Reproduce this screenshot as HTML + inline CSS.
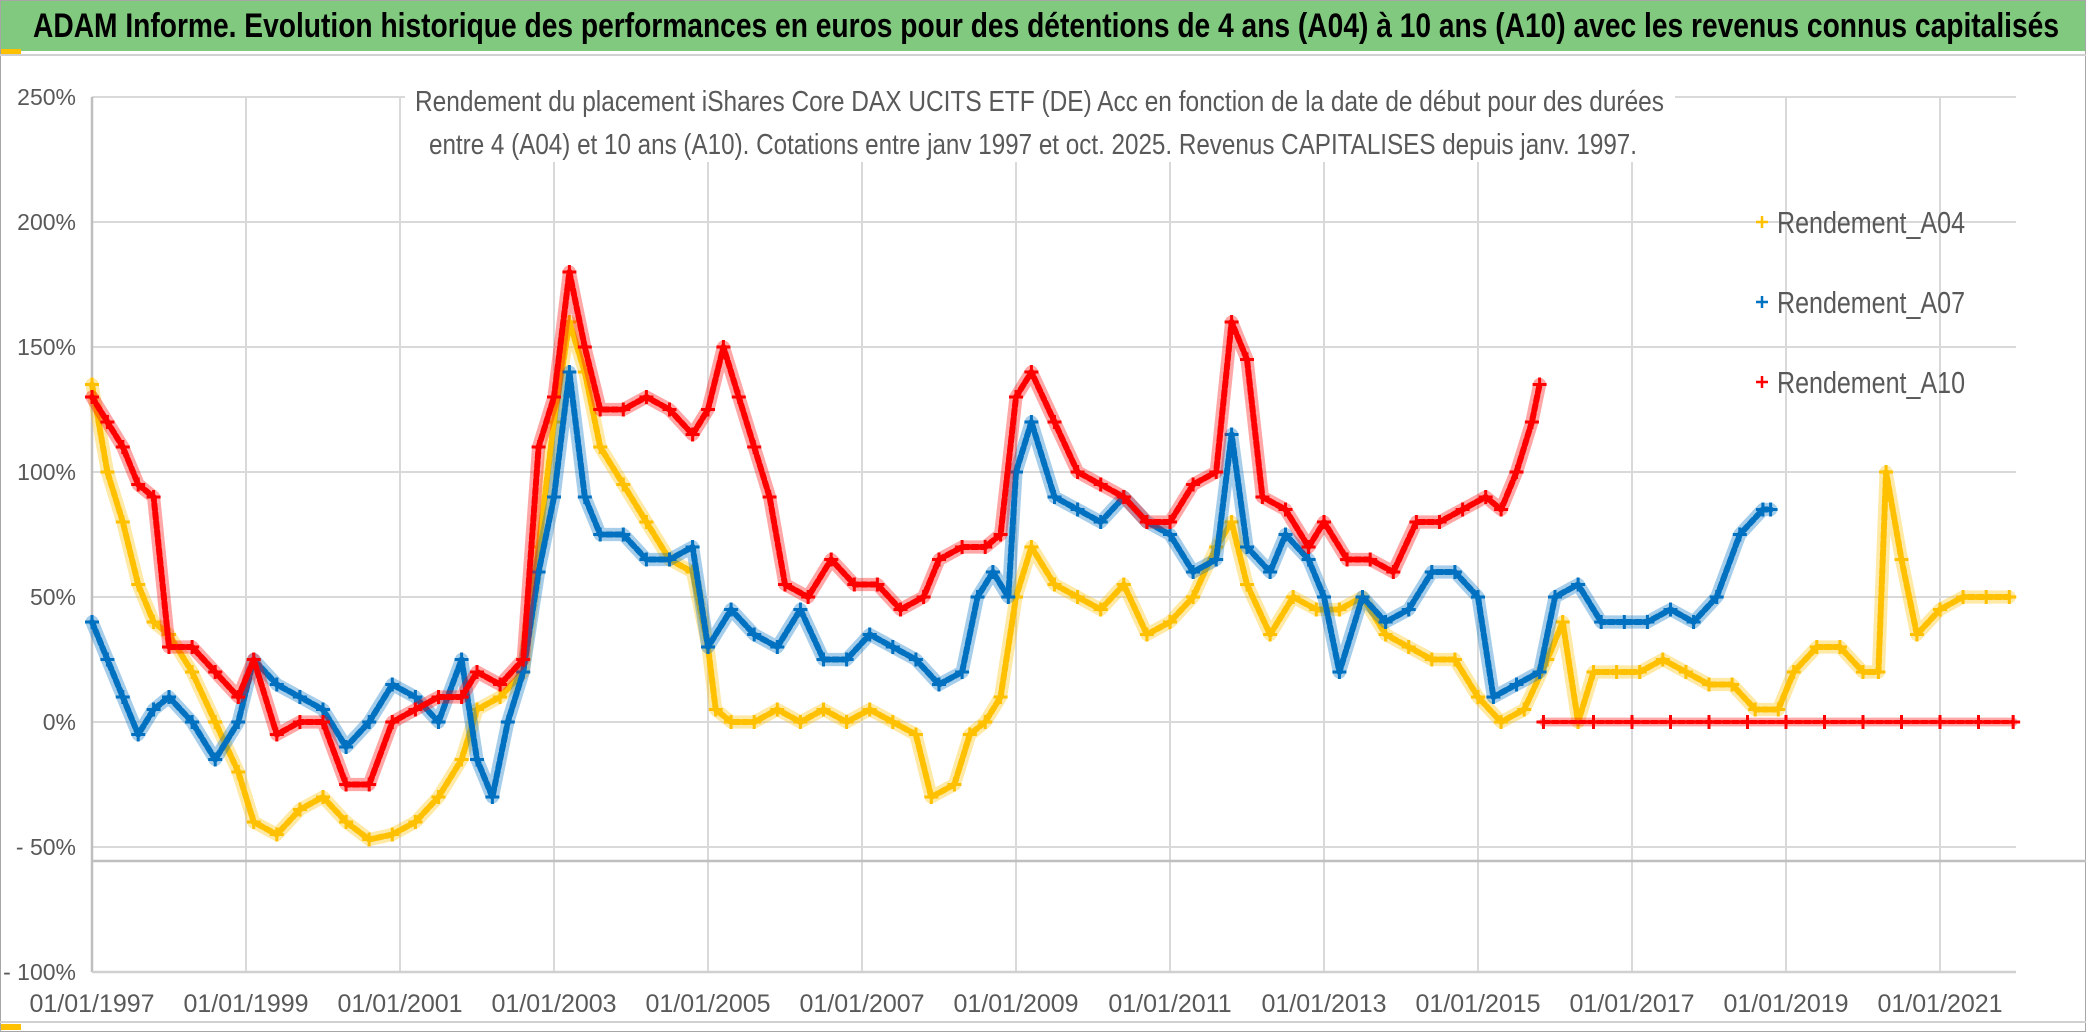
<!DOCTYPE html>
<html><head><meta charset="utf-8"><style>
html,body{margin:0;padding:0;background:#fff;}
svg{display:block;font-family:"Liberation Sans Narrow","Liberation Sans",sans-serif;}
</style></head><body>
<svg id="chart" width="2086" height="1032" viewBox="0 0 2086 1032" xmlns="http://www.w3.org/2000/svg">
<rect x="0" y="0" width="2086" height="1032" fill="#fff"/>
<rect x="0.5" y="0.5" width="2085" height="1031" fill="none" stroke="#a6a6a6"/>
<rect x="1" y="1" width="2084" height="50" fill="#80c97f"/>
<rect x="1" y="49" width="20" height="5" fill="#ffc000"/>
<line x1="0" y1="55" x2="2086" y2="55" stroke="#d0d0d0" stroke-width="2"/>
<text x="33" y="37" font-size="34" font-weight="bold" fill="#000" textLength="2026" lengthAdjust="spacingAndGlyphs">ADAM Informe. Evolution historique des performances en euros pour des détentions de 4 ans (A04) à 10 ans (A10) avec les revenus connus capitalisés</text>
<g id="grid"></g>
<g id="axes"></g>
<rect x="405" y="76" width="1270" height="86" fill="#fff"/>
<text x="415" y="111" font-size="29" fill="#595959" textLength="1249" lengthAdjust="spacingAndGlyphs">Rendement du placement iShares Core DAX UCITS ETF (DE) Acc en fonction de la date de début pour des durées</text>
<text x="429" y="154" font-size="29" fill="#595959" textLength="1208" lengthAdjust="spacingAndGlyphs">entre 4 (A04) et 10 ans (A10). Cotations entre janv 1997 et oct. 2025. Revenus CAPITALISES depuis janv. 1997.</text>
<g id="series"></g>
<g id="legend"></g>
<line x1="0" y1="1022" x2="2086" y2="1022" stroke="#d0d0d0" stroke-width="2"/>
<rect x="1" y="1024" width="20" height="6" fill="#ffc000"/>
</svg>
<script>
const yTicks=[250,200,150,100,50,0,-50,-100];
const yTickLabels=["250%","200%","150%","100%","50%","0%","- 50%","- 100%"];
const xTicks=[1997,1999,2001,2003,2005,2007,2009,2011,2013,2015,2017,2019,2021];
const xTickLabels=["01/01/1997","01/01/1999","01/01/2001","01/01/2003","01/01/2005","01/01/2007","01/01/2009","01/01/2011","01/01/2013","01/01/2015","01/01/2017","01/01/2019","01/01/2021"];
const refLineValue=-55.6;

const a04Years=[1997.0,1997.2,1997.4,1997.6,1997.8,1998.0,1998.3,1998.6,1998.9,1999.1,1999.4,1999.7,2000.0,2000.3,2000.6,2000.9,2001.2,2001.5,2001.8,2002.0,2002.3,2002.6,2002.8,2003.0,2003.2,2003.4,2003.6,2003.9,2004.2,2004.5,2004.8,2005.0,2005.1,2005.3,2005.6,2005.9,2006.2,2006.5,2006.8,2007.1,2007.4,2007.7,2007.9,2008.2,2008.4,2008.6,2008.8,2009.0,2009.2,2009.5,2009.8,2010.1,2010.4,2010.7,2011.0,2011.3,2011.6,2011.8,2012.0,2012.3,2012.6,2012.9,2013.2,2013.5,2013.8,2014.1,2014.4,2014.7,2015.0,2015.3,2015.6,2015.9,2016.1,2016.3,2016.5,2016.8,2017.1,2017.4,2017.7,2018.0,2018.3,2018.6,2018.9,2019.1,2019.4,2019.7,2020.0,2020.2,2020.3,2020.5,2020.7,2021.0,2021.3,2021.6,2021.9];
const a04Values=[135,100,80,55,40,35,20,0,-20,-40,-45,-35,-30,-40,-47,-45,-40,-30,-15,5,10,20,70,120,160,140,110,95,80,65,60,30,5,0,0,5,0,5,0,5,0,-5,-30,-25,-5,0,10,50,70,55,50,45,55,35,40,50,70,80,55,35,50,45,45,50,35,30,25,25,10,0,5,25,40,0,20,20,20,25,20,15,15,5,5,20,30,30,20,20,100,65,35,45,50,50,50];

const a07Years=[1997.0,1997.2,1997.4,1997.6,1997.8,1998.0,1998.3,1998.6,1998.9,1999.1,1999.4,1999.7,2000.0,2000.3,2000.6,2000.9,2001.2,2001.5,2001.8,2002.0,2002.2,2002.4,2002.6,2002.8,2003.0,2003.2,2003.4,2003.6,2003.9,2004.2,2004.5,2004.8,2005.0,2005.3,2005.6,2005.9,2006.2,2006.5,2006.8,2007.1,2007.4,2007.7,2008.0,2008.3,2008.5,2008.7,2008.9,2009.0,2009.2,2009.5,2009.8,2010.1,2010.4,2010.7,2011.0,2011.3,2011.6,2011.8,2012.0,2012.3,2012.5,2012.8,2013.0,2013.2,2013.5,2013.8,2014.1,2014.4,2014.7,2015.0,2015.2,2015.5,2015.8,2016.0,2016.3,2016.6,2016.9,2017.2,2017.5,2017.8,2018.1,2018.4,2018.7,2018.8];
const a07Values=[40,25,10,-5,5,10,0,-15,0,25,15,10,5,-10,0,15,10,0,25,-15,-30,0,20,60,90,140,90,75,75,65,65,70,30,45,35,30,45,25,25,35,30,25,15,20,50,60,50,100,120,90,85,80,90,80,75,60,65,115,70,60,75,65,50,20,50,40,45,60,60,50,10,15,20,50,55,40,40,40,45,40,50,75,85,85];

const a10Years=[1997.0,1997.2,1997.4,1997.6,1997.8,1998.0,1998.3,1998.6,1998.9,1999.1,1999.4,1999.7,2000.0,2000.3,2000.6,2000.9,2001.2,2001.5,2001.8,2002.0,2002.3,2002.6,2002.8,2003.0,2003.2,2003.4,2003.6,2003.9,2004.2,2004.5,2004.8,2005.0,2005.2,2005.4,2005.6,2005.8,2006.0,2006.3,2006.6,2006.9,2007.2,2007.5,2007.8,2008.0,2008.3,2008.6,2008.8,2009.0,2009.2,2009.5,2009.8,2010.1,2010.4,2010.7,2011.0,2011.3,2011.6,2011.8,2012.0,2012.2,2012.5,2012.8,2013.0,2013.3,2013.6,2013.9,2014.2,2014.5,2014.8,2015.1,2015.3,2015.5,2015.7,2015.8];
const a10Values=[130,120,110,95,90,30,30,20,10,25,-5,0,0,-25,-25,0,5,10,10,20,15,25,110,130,180,150,125,125,130,125,115,125,150,130,110,90,55,50,65,55,55,45,50,65,70,70,75,130,140,120,100,95,90,80,80,95,100,160,145,90,85,70,80,65,65,60,80,80,85,90,85,100,120,135];
const a10ZeroYears=[2015.85,2016.5,2017,2017.5,2018,2018.5,2019,2019.5,2020,2020.5,2021,2021.5,2021.95];
const a10ZeroValues=[0,0,0,0,0,0,0,0,0,0,0,0,0];

const NS="http://www.w3.org/2000/svg";
const X0=92,X1=2016,YTOP=97,PX_PER_PCT=2.5,PX_PER_YEAR=77;
function xs(yr){return X0+(yr-1997)*PX_PER_YEAR;}
function ys(v){return YTOP+(250-v)*PX_PER_PCT;}
function mk(tag,attrs,parent){const e=document.createElementNS(NS,tag);for(const k in attrs)e.setAttribute(k,attrs[k]);parent.appendChild(e);return e;}

const grid=document.getElementById('grid');
const axes=document.getElementById('axes');
yTicks.forEach((v,i)=>{
  const l=mk('line',{x1:X0,x2:X1,y1:ys(v),y2:ys(v),stroke:'#d9d9d9','stroke-width':2},grid);
  
  
  const t=mk('text',{x:76,y:ys(v)+8,'font-size':23,fill:'#595959','text-anchor':'end'},axes);
  t.textContent=yTickLabels[i];
  
  
});
xTicks.forEach((yr,i)=>{
  const l=mk('line',{x1:xs(yr),x2:xs(yr),y1:YTOP,y2:ys(-100),stroke:'#d9d9d9','stroke-width':2},grid);
  
  
  const t=mk('text',{x:xs(yr),y:1012,'font-size':25,fill:'#595959','text-anchor':'middle'},axes);
  t.textContent=xTickLabels[i];
  
  
});
const rl=mk('line',{x1:X0,x2:2086,y1:ys(refLineValue),y2:ys(refLineValue),stroke:'#bfbfbf','stroke-width':2.5},grid);


const ya=mk('line',{x1:X0,x2:X0,y1:YTOP,y2:ys(-100),stroke:'#bfbfbf','stroke-width':2.5},axes);


const xa=mk('line',{x1:X0,x2:X1,y1:ys(-100),y2:ys(-100),stroke:'#d0d0d0','stroke-width':2.5},axes);



const seriesG=document.getElementById('series');
function drawSeries(name,years,vals,color,w){
  const g=mk('g',{},seriesG);
  
  
  const pts=years.map((yr,i)=>xs(yr).toFixed(1)+','+ys(vals[i]).toFixed(1)).join(' ');
  const halo=mk('polyline',{points:pts,fill:'none',stroke:color,'stroke-width':w*2.2,'stroke-opacity':0.35,'stroke-linejoin':'round','stroke-linecap':'round'},g);
  
  
  const pl=mk('polyline',{points:pts,fill:'none',stroke:color,'stroke-width':w,'stroke-linejoin':'round','stroke-linecap':'round','stroke-dasharray':'6 3'},g);
  
  
  years.forEach((yr,i)=>{
    const x=xs(yr),y=ys(vals[i]);
    const p=mk('path',{d:`M${x-7},${y}H${x+7}M${x},${y-7}V${y+7}`,stroke:color,'stroke-width':3},g);
    
    
  });
}
drawSeries('series-a04',a04Years,a04Values,'#ffc000',6);
drawSeries('series-a07',a07Years,a07Values,'#0070c0',6);
drawSeries('series-a10',a10Years,a10Values,'#ff0000',6);
drawSeries('series-a10-zero',a10ZeroYears,a10ZeroValues,'#ff0000',4);

const legendNames=["Rendement_A04","Rendement_A07","Rendement_A10"];
const legendColors=['#ffc000','#0070c0','#ff0000'];
const legend=document.getElementById('legend');
legendNames.forEach((n,i)=>{
  const cy=222+i*80;
  const g=mk('g',{},legend);
  
  
  const p=mk('path',{d:`M${1756},${cy}H${1768}M${1762},${cy-6}V${cy+6}`,stroke:legendColors[i],'stroke-width':2.5},g);
  
  
  const t=mk('text',{x:1777,y:cy+11,'font-size':31,fill:'#595959',textLength:188,lengthAdjust:'spacingAndGlyphs'},g);
  t.textContent=n;
  
  
});
</script>
</body></html>
